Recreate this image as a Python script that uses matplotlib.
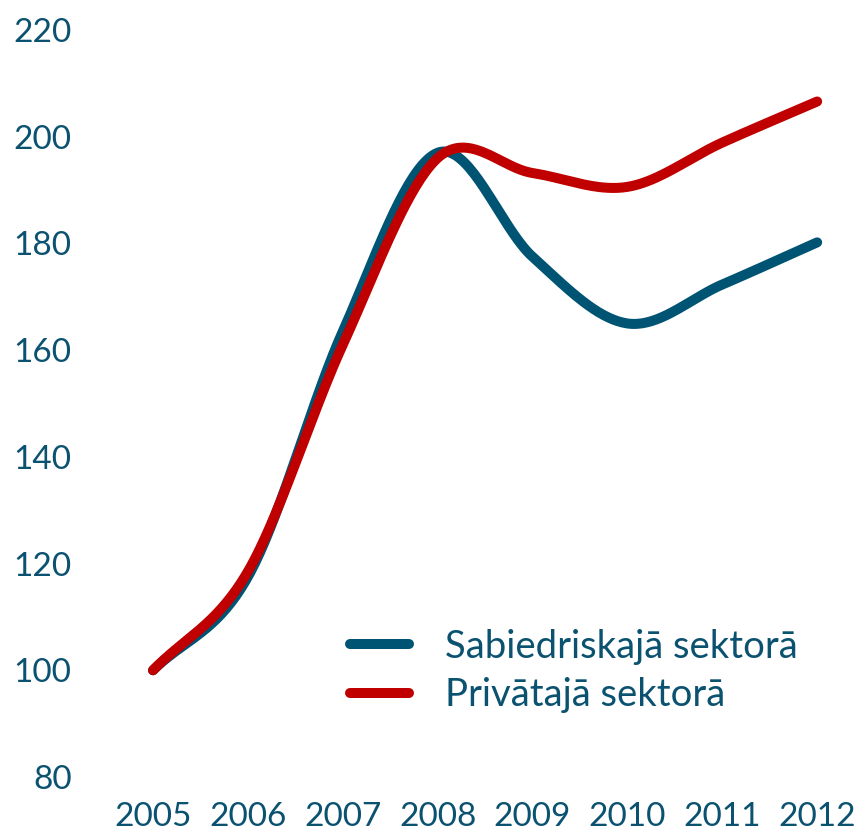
import numpy as np
import matplotlib
matplotlib.use("Agg")
import matplotlib.pyplot as plt

years = [2005, 2006, 2007, 2008, 2009, 2010, 2011, 2012]
public_sector = [100, 117.5, 163.5, 197, 177.5, 165, 172.3, 180.2]
private_sector = [100, 118.5, 161, 196, 193.2, 190.6, 198.9, 206.6]
labels = ["Sabiedriskajā sektorā", "Privātajā sektorā"]
y_ticks = [80, 100, 120, 140, 160, 180, 200, 220]

TEXT = "#0B5270"
BLUE = "#005473"
RED = "#C00000"


def smooth(xs, ys, n=40):
    # cardinal spline like the spreadsheet "smoothed line" option
    xs = np.asarray(xs, float)
    ys = np.asarray(ys, float)
    m = len(xs)
    tx = np.zeros(m)
    ty = np.zeros(m)
    for i in range(m):
        a = max(i - 1, 0)
        b = min(i + 1, m - 1)
        tx[i] = (xs[b] - xs[a]) / (b - a) if b - a == 2 else (xs[b] - xs[a])
        ty[i] = (ys[b] - ys[a]) / (b - a) if b - a == 2 else (ys[b] - ys[a])
    out_x, out_y = [], []
    t = np.linspace(0, 1, n)
    h00 = 2 * t**3 - 3 * t**2 + 1
    h10 = t**3 - 2 * t**2 + t
    h01 = -2 * t**3 + 3 * t**2
    h11 = t**3 - t**2
    for i in range(m - 1):
        out_x.extend(h00 * xs[i] + h10 * tx[i] + h01 * xs[i + 1] + h11 * tx[i + 1])
        out_y.extend(h00 * ys[i] + h10 * ty[i] + h01 * ys[i + 1] + h11 * ty[i + 1])
    return np.array(out_x), np.array(out_y)


plt.rcParams["font.family"] = ["Lato", "DejaVu Sans"]

fig = plt.figure(figsize=(8.57, 8.35), dpi=100)
ax = fig.add_axes([105 / 857, 1 - 777 / 835, (857 - 105) / 857, (777 - 30) / 835])

for series, color, label in [(public_sector, BLUE, labels[0]),
                             (private_sector, RED, labels[1])]:
    sx, sy = smooth(years, series)
    ax.plot(sx, sy, color=color, lw=7.2, solid_capstyle="round",
            label=label, clip_on=False)

ax.set_xlim(2004.494, 2012.42)
ax.set_ylim(80, 220)
ax.set_xticks(years)
ax.set_yticks(y_ticks)
for s in ax.spines.values():
    s.set_visible(False)
ax.tick_params(axis="both", length=0, labelsize=24, labelcolor=TEXT)
ax.tick_params(axis="y", pad=24)
ax.tick_params(axis="x", pad=18)

leg = ax.legend(loc="lower left", bbox_to_anchor=(0.305, 0.065), frameon=False,
                fontsize=27.5, handlelength=1.55, handletextpad=0.95,
                labelspacing=0.33, borderaxespad=0)
for t in leg.get_texts():
    t.set_color(TEXT)

fig.savefig("out.png", dpi=100)
